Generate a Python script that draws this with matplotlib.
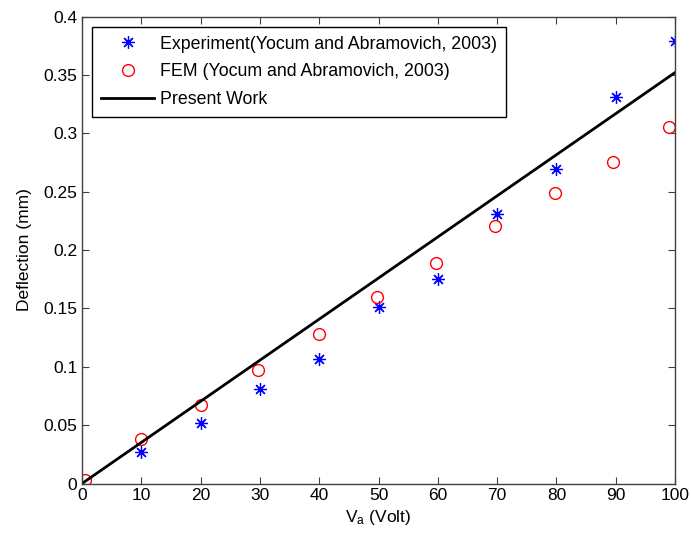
import matplotlib
matplotlib.use("Agg")
from matplotlib import pyplot as plt
from matplotlib.ticker import FormatStrFormatter

plt.rcParams["font.family"] = ["Liberation Sans", "DejaVu Sans"]
plt.rcParams["mathtext.fontset"] = "custom"
plt.rcParams["mathtext.rm"] = "Liberation Sans"
plt.rcParams["mathtext.it"] = "Liberation Sans"

# experiment (Yocum and Abramovich, 2003)
exp_x = [10, 20, 30, 40, 50, 60, 70, 80, 90, 100]
exp_y = [0.0272, 0.052, 0.081, 0.107, 0.151, 0.175, 0.231, 0.2694, 0.331, 0.379]

# FEM (Yocum and Abramovich, 2003)
fem_x = [0.5, 10, 20, 29.7, 40, 49.7, 59.7, 69.6, 79.8, 89.5, 99]
fem_y = [0.003, 0.038, 0.067, 0.0976, 0.1278, 0.1597, 0.1887, 0.2204, 0.2486, 0.2756, 0.305]

# present work
pw_x = [0, 100]
pw_y = [0, 0.352]

fig = plt.figure(figsize=(6.91, 5.38), dpi=100)
ax = fig.add_axes([0.1187, 0.1013, 0.8582, 0.868])

ax.plot(exp_x, exp_y, linestyle="none", marker=(8, 2, 0), markersize=9,
        markeredgewidth=0.9, color="blue", label="Experiment(Yocum and Abramovich, 2003)")
ax.plot(fem_x, fem_y, linestyle="none", marker="o", markersize=8.5,
        markerfacecolor="none", markeredgecolor="red", markeredgewidth=1.0,
        label="FEM (Yocum and Abramovich, 2003)")
ax.plot(pw_x, pw_y, color="black", linewidth=2, label="Present Work")

ax.set_xlim(0, 100)
ax.set_ylim(0, 0.4)
ax.set_xticks(range(0, 101, 10))
ax.set_yticks([i * 0.05 for i in range(9)])
ax.yaxis.set_major_formatter(FormatStrFormatter("%g"))
ax.tick_params(direction="in", top=True, right=True, labelsize=12.5, length=5,
               width=0.8, colors="#404040", labelcolor="black")
for s in ax.spines.values():
    s.set_color("#404040")
    s.set_linewidth(1.0)

ax.set_xlabel("V$_{\\mathrm{a}}$ (Volt)", fontsize=12.5, labelpad=3)
ax.set_ylabel("Deflection (mm)", fontsize=12.5, labelpad=8)

leg = ax.legend(loc="upper left", bbox_to_anchor=(0.017, 0.978), borderaxespad=0,
                fontsize=12.8, fancybox=False, framealpha=1, edgecolor="black",
                handlelength=3.0, handletextpad=0.33, labelspacing=0.6, borderpad=0.5)
leg.get_frame().set_linewidth(1.0)

plt.savefig("out.png", dpi=100)
